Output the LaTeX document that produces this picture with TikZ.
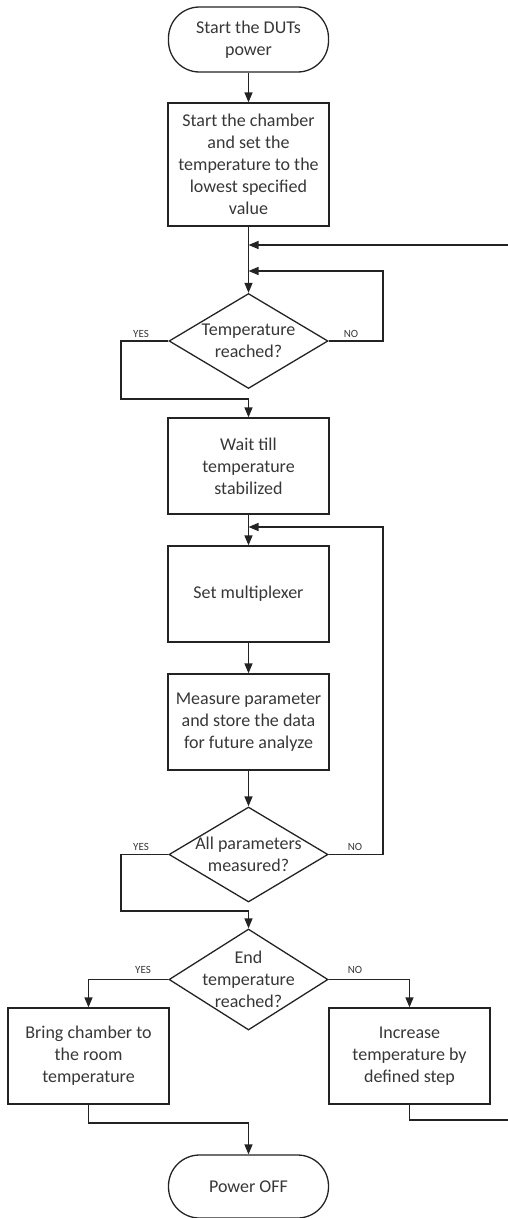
\documentclass[tikz,border=0pt]{standalone}
\usepackage{fontspec}
\setmainfont{Carlito}
\usetikzlibrary{shapes.geometric,arrows.meta}
\definecolor{ink}{RGB}{35,35,35}
\definecolor{txt}{RGB}{55,55,55}
\tikzset{
  base/.style={draw=ink, line width=1.3pt, text=txt, align=center, inner sep=0pt,
    font=\fontsize{18}{22}\selectfont},
  proc/.style={base, rectangle, minimum width=161pt, minimum height=96pt},
  term/.style={base, rectangle, rounded corners=31pt, minimum width=160pt},
  dia/.style={base, diamond, minimum width=159pt, minimum height=95pt},
  dtext/.style={text=txt, align=center, font=\fontsize{18}{22}\selectfont},
  lab/.style={text=txt, font=\fontsize{11}{13}\selectfont},
  conn/.style={draw=ink, line width=1.3pt},
  arr/.style={conn, -{Triangle[length=10pt,width=8pt]}},
}
\begin{document}
\begin{tikzpicture}[x=1pt,y=1pt]
\useasboundingbox (0,0) rectangle (507,-1218);

\node[term, minimum height=65pt] (t1) at (248.5,-39.5) {Start the DUTs\\power};
\node[proc, minimum height=123pt] (b1) at (248.5,-164.5) {Start the chamber\\and set the\\temperature to the\\lowest specified\\value};
\node[dia, label={[dtext]center:Temperature\\reached?}] (d1) at (248.5,-341) {};
\node[proc] (b2) at (248.5,-466) {Wait till\\temperature\\stabilized};
\node[proc] (b3) at (248.5,-594) {Set multiplexer};
\node[proc] (b4) at (248.5,-722) {Measure parameter\\and store the data\\for future analyze};
\node[dia, label={[dtext]center:All parameters\\measured?}] (d2) at (248.5,-854.5) {};
\node[dia, minimum height=101pt, label={[dtext]center:End\\temperature\\reached?}] (d3) at (248.5,-979.5) {};
\node[proc] (b5) at (88.5,-1056) {Bring chamber to\\the room\\temperature};
\node[proc] (b6) at (409.5,-1056) {Increase\\temperature by\\defined step};
\node[term, minimum height=63pt] (t2) at (248.5,-1186.5) {Power OFF};

% helper coordinates
\coordinate (m0) at (248.5,-245);
\coordinate (m1) at (248.5,-271);
\coordinate (n1) at (383,-271);
\coordinate (y1) at (121,-399);
\coordinate (m2) at (248.5,-527);
\coordinate (n2) at (383,-527);
\coordinate (y2) at (121,-911);
\coordinate (q5) at (88.5,-1123);
\coordinate (r1) at (409.5,-1120);
\coordinate (r2) at (509,-1120);
\coordinate (r3) at (509,-245);

\draw[arr] (t1) -- (b1);
\draw[arr] (b1) -- (d1);
\draw[arr] (d1.east) -| (n1) -- (m1);
\draw[arr] (d1.west) -| (y1) -| (b2.north);
\draw[arr] (b2) -- (b3);
\draw[arr] (d2.east) -| (n2) -- (m2);
\draw[arr] (b3) -- (b4);
\draw[arr] (b4) -- (d2);
\draw[arr] (d2.west) -| (y2) -| (d3.north);
\draw[arr] (d3.west) -| (b5.north);
\draw[arr] (d3.east) -| (b6.north);
\draw[arr] (b5.south) -- (q5) -| (t2.north);
\draw[arr] (b6.south) -- (r1) -- (r2) -- (r3) -- (m0);

\node[lab] (ly1) at (141,-334) {YES};
\node[lab] (ln1) at (351,-334) {NO};
\node[lab] (ly2) at (141,-847) {YES};
\node[lab] (ln2) at (355,-847) {NO};
\node[lab] (ly3) at (143,-970) {YES};
\node[lab] (ln3) at (355,-970) {NO};
\end{tikzpicture}
\end{document}
